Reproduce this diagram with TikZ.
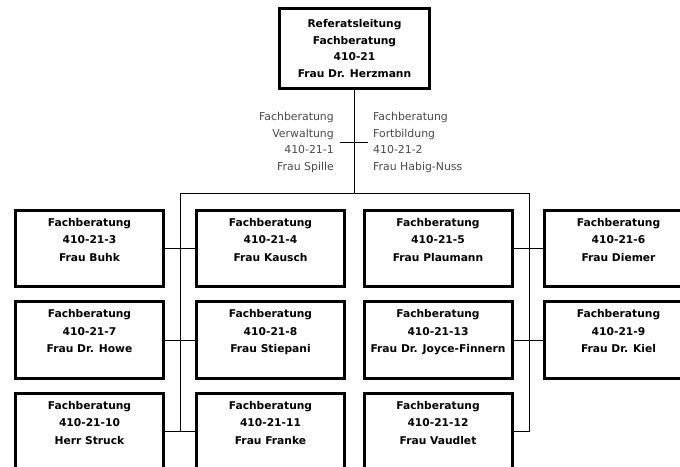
\documentclass[tikz,border=0pt]{standalone}
\usepackage{fontspec}
\setmainfont{DejaVu Sans}
\newfontfamily\orgfont{DejaVu Sans}
\definecolor{labelgray}{HTML}{4A4A4A}
\begin{document}
\begin{tikzpicture}[x=1pt,y=-1pt,
  orgbox/.style={draw=black, line width=3pt, rectangle, minimum width=148pt, minimum height=76.5pt,
    align=center, inner sep=0pt, font=\orgfont\bfseries\fontsize{10.7}{17.5}\selectfont},
  topbox/.style={orgbox, minimum width=150pt, minimum height=80pt, font=\orgfont\bfseries\fontsize{10.7}{16.7}\selectfont},
  sidelabel/.style={inner sep=0pt, text=labelgray, font=\orgfont\fontsize{10.9}{16.4}\selectfont},
  link/.style={draw=black, line width=1pt}]
\useasboundingbox (0,0) rectangle (680,466);
\clip (0,0) rectangle (680,466);

\node[topbox] (top) at (354.5,48.5) {Referatsleitung\\Fachberatung\\410-21\\Frau Dr. Herzmann};

\node[sidelabel, anchor=east, align=right] (sl) at (334,142.5) {Fachberatung\\Verwaltung\\410-21-1\\Frau Spille};
\node[sidelabel, anchor=west, align=left] (sr) at (373,142.5) {Fachberatung\\Fortbildung\\410-21-2\\Frau Habig-Nuss};

\node[orgbox] (b3)  at (89.5,248.5)  {Fachberatung\\410-21-3\\Frau Buhk\\\mbox{}};
\node[orgbox] (b4)  at (270.5,248.5) {Fachberatung\\410-21-4\\Frau Kausch\\\mbox{}};
\node[orgbox] (b5)  at (438,248.5)   {Fachberatung\\410-21-5\\Frau Plaumann\\\mbox{}};
\node[orgbox] (b6)  at (618.5,248.5) {Fachberatung\\410-21-6\\Frau Diemer\\\mbox{}};

\node[orgbox] (b7)  at (89.5,340)  {Fachberatung\\410-21-7\\Frau Dr. Howe\\\mbox{}};
\node[orgbox] (b8)  at (270.5,340) {Fachberatung\\410-21-8\\Frau Stiepani\\\mbox{}};
\node[orgbox] (b13) at (438,340)   {Fachberatung\\410-21-13\\Frau Dr. Joyce-Finnern\\\mbox{}};
\node[orgbox] (b9)  at (618.5,340) {Fachberatung\\410-21-9\\Frau Dr. Kiel\\\mbox{}};

\node[orgbox] (b10) at (89.5,431.5)  {Fachberatung\\410-21-10\\Herr Struck\\\mbox{}};
\node[orgbox] (b11) at (270.5,431.5) {Fachberatung\\410-21-11\\Frau Franke\\\mbox{}};
\node[orgbox] (b12) at (438,431.5)   {Fachberatung\\410-21-12\\Frau Vaudlet\\\mbox{}};

\coordinate (busM) at (354.5,193);
\coordinate (busL) at (180,193);
\coordinate (busR) at (529,193);
\coordinate (crossL) at (340,142);
\coordinate (crossR) at (368,142);

\draw[link] (top.south) -- (busM);
\draw[link] (crossL) -- (crossR);
\draw[link] (busL) -- (busR);
\draw[link] (busL) |- (b10.east);
\draw[link] (busR) |- (b12.east);
\draw[link] (b3.east) -- (b4.west);
\draw[link] (b7.east) -- (b8.west);
\draw[link] (b10.east) -- (b11.west);
\draw[link] (b5.east) -- (b6.west);
\draw[link] (b13.east) -- (b9.west);
\end{tikzpicture}
\end{document}
